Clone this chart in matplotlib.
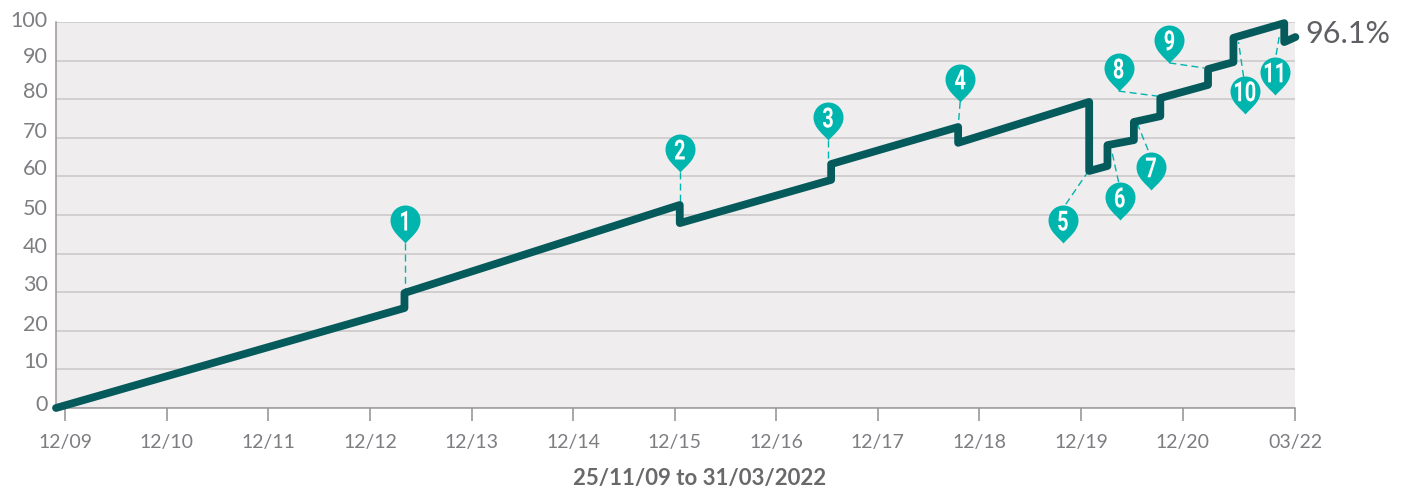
import matplotlib
matplotlib.use("Agg")
import matplotlib.pyplot as plt
import matplotlib.patheffects as pe
from matplotlib.path import Path
from matplotlib.transforms import Affine2D, ScaledTranslation

plt.rcParams['font.family'] = ['Lato', 'DejaVu Sans']

# years since 12/09 and cumulative return
line_x = [-0.09, 3.34, 3.34, 6.05, 6.05, 7.54, 7.54, 8.79, 8.79, 10.08, 10.08, 10.26, 10.26,
          10.52, 10.52, 10.78, 10.78, 11.25, 11.25, 11.50, 11.50, 12.0, 12.0, 12.11]
line_y = [0, 25.9, 29.8, 52.6, 47.9, 59.1, 63.2, 72.8, 68.7, 79.3, 61.4, 62.7, 68.1,
          69.4, 74.1, 75.6, 80.3, 83.7, 87.8, 89.6, 95.9, 99.7, 94.8, 96.1]

tick_x = [0, 1, 2, 3, 4, 5, 6, 7, 8, 9, 10, 11, 12.106]
tick_labels = ['12/09', '12/10', '12/11', '12/12', '12/13', '12/14', '12/15', '12/16',
               '12/17', '12/18', '12/19', '12/20', '03/22']
y_ticks = [0, 10, 20, 30, 40, 50, 60, 70, 80, 90, 100]
# the y labels sit above their gridlines in the original (pixels)
y_label_up = [5, 9, 8, 9, 9, 8, 9, 8, 9, 6, 3]

# pin tips
pin_labels = ['1', '2', '3', '4', '5', '6', '7', '8', '9', '10', '11']
pin_x = [3.35, 6.05, 7.51, 8.81, 9.82, 10.38, 10.69, 10.37, 10.87, 11.61, 11.91]
pin_y = [42.7, 61.1, 69.4, 79.3, 42.7, 48.7, 56.5, 82.1, 89.4, 76.2, 81.1]

# dashed leaders from pin to line
lead_x0 = [3.35, 6.05, 7.51, 8.81, 9.85, 10.37, 10.66, 10.37, 10.87, 11.60, 11.92]
lead_y0 = [42.7, 61.1, 69.4, 79.3, 52.8, 58.5, 66.8, 82.1, 89.4, 85.8, 91.5]
lead_x1 = [3.35, 6.05, 7.51, 8.79, 10.06, 10.30, 10.56, 10.75, 11.21, 11.55, 11.95]
lead_y1 = [29.3, 52.6, 63.0, 72.8, 60.9, 66.8, 73.3, 80.8, 88.1, 94.8, 96.1]

GREY = '#7d7d82'
TEAL = '#00b5ad'
DARK = '#055a5c'


# no condensed font here, so squeeze the pin numbers sideways
class Squeeze(pe.AbstractPathEffect):
    def __init__(self, factor):
        super().__init__()
        self.factor = factor

    def draw_path(self, renderer, gc, tpath, affine, rgbFace=None):
        box = tpath.transformed(affine).get_extents()
        cx = (box.x0 + box.x1) / 2
        squeezed = affine + Affine2D().translate(-cx, 0).scale(self.factor, 1).translate(cx, 0)
        renderer.draw_path(gc, tpath, squeezed, rgbFace)


# pin outline, tip at the origin
pin = Path(
    [(0, 0), (-5, 6), (-15, 12.5), (-15, 23), (-15, 31.3), (-8.3, 38), (0, 38),
     (8.3, 38), (15, 31.3), (15, 23), (15, 12.5), (5, 6), (0, 0), (0, 0)],
    [Path.MOVETO] + [Path.CURVE4] * 12 + [Path.CLOSEPOLY])

fig = plt.figure(figsize=(14.04, 4.88), dpi=100)
ax = fig.add_axes([56 / 1404, 1 - 408 / 488, (1295 - 56) / 1404, (408 - 22) / 488])
ax.set_facecolor('#efedee')
ax.set_xlim(-0.09, 12.106)
ax.set_ylim(0, 100)

for s in ['top', 'right']:
    ax.spines[s].set_visible(False)
for s in ['left', 'bottom']:
    ax.spines[s].set_color('#98989c')
    ax.spines[s].set_linewidth(1.1)

ax.set_yticks(y_ticks)
ax.set_xticks(tick_x)
ax.set_xticklabels(tick_labels)
ax.tick_params(axis='y', length=0, pad=6, labelsize=15.5, labelcolor=GREY)
ax.tick_params(axis='x', length=9.4, width=1.1, color='#8f8f93', pad=9.5, labelsize=14, labelcolor=GREY)
for lab, up in zip(ax.get_yticklabels(), y_label_up):
    lab.set_transform(lab.get_transform() + ScaledTranslation(0, up / 100, fig.dpi_scale_trans))
ax.grid(axis='y', color='#c9c7c7', lw=1.1, zorder=1)
ax.set_axisbelow(True)
ax.set_xlabel('25/11/09 to 31/03/2022', fontsize=16, fontweight='bold', color='#69696c',
              labelpad=12, x=(700 - 56) / 1239)

for i in range(len(lead_x0)):
    ax.plot([lead_x0[i], lead_x1[i]], [lead_y0[i], lead_y1[i]], color=TEAL, lw=1, ls=(0, (5, 3)), zorder=2)

ax.plot(line_x, line_y, color=DARK, lw=5.6, solid_capstyle='round', solid_joinstyle='round',
        clip_on=False, zorder=3)

ax.plot(pin_x, pin_y, ls='none', marker=pin, ms=54.7, mfc=TEAL, mew=0, clip_on=False, zorder=4)
for i in range(len(pin_labels)):
    ax.annotate(pin_labels[i], (pin_x[i], pin_y[i]), xytext=(0, 14.5), textcoords='offset points',
                ha='center', va='center', color='white', fontsize=20, fontweight='bold',
                family=['Roboto'], zorder=5, path_effects=[Squeeze(0.72)])

ax.annotate('96.1%', (line_x[-1], line_y[-1]), xytext=(7, 2.5), textcoords='offset points',
            ha='left', va='center', fontsize=22, color='#5f6064', annotation_clip=False)

fig.savefig('out.png', dpi=100)
